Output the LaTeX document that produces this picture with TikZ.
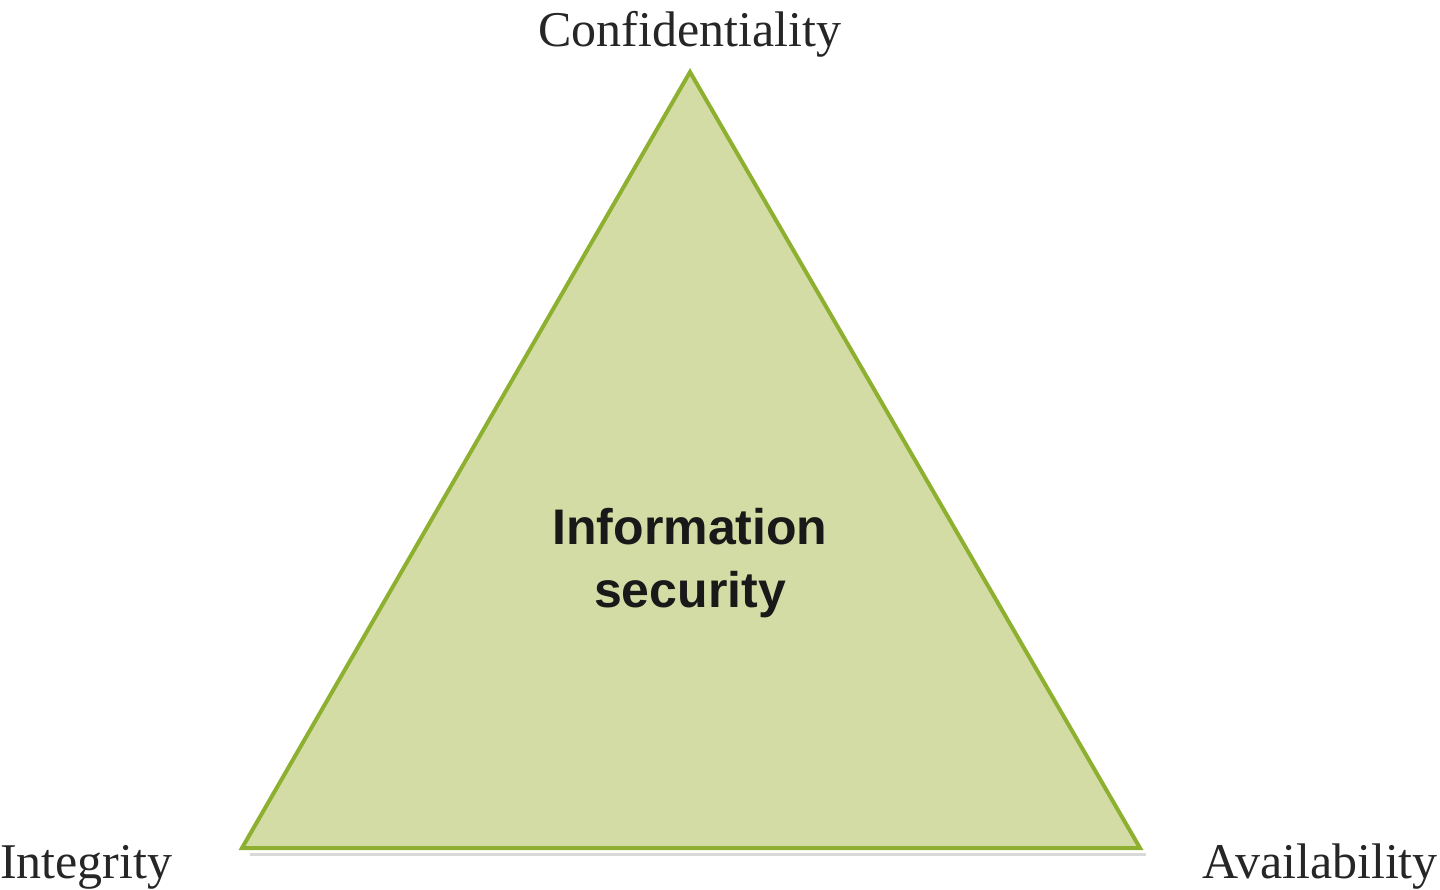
\documentclass[tikz,border=0pt]{standalone}
\usepackage{fontspec}
\setmainfont{Liberation Serif}
\setsansfont{Liberation Sans}
\definecolor{trifill}{HTML}{D3DCA4}
\definecolor{triline}{HTML}{8DB030}
\begin{document}
\begin{tikzpicture}[x=1pt,y=-1pt,
  lab/.style={font=\fontsize{50}{56}\selectfont, inner sep=0pt, text=black!85}]
\useasboundingbox (0,0) rectangle (1440,889);
\coordinate (top) at (690,72);
\coordinate (bl) at (242,848);
\coordinate (br) at (1140,848);
\draw[black!15, line width=3pt] (250,854) -- (1146,854);
\filldraw[fill=trifill, draw=triline, line width=4pt, line join=miter] (top) -- (bl) -- (br) -- cycle;
\node[lab, anchor=base] (c) at (690,46) {Confidentiality};
\node[lab, anchor=base west] (i) at (0,878) {Integrity};
\node[lab, anchor=base east] (a) at (1438,878) {Availability};
\node[font=\sffamily\bfseries\fontsize{50}{63}\selectfont, align=center, text=black!90] (is) at (690,563) {Information\\security};
\end{tikzpicture}
\end{document}
